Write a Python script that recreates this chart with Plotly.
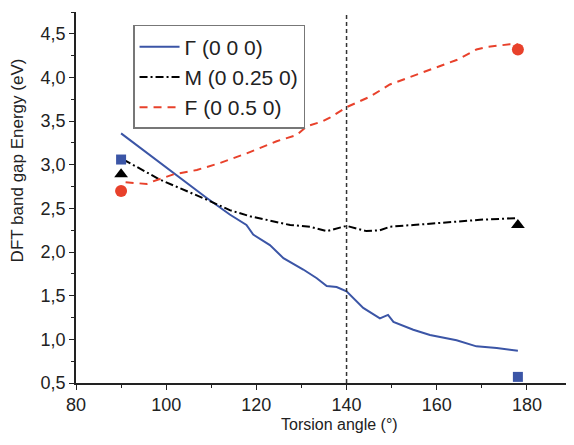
import plotly.graph_objects as go

# band gap along the torsion path
gamma_x = [90, 101.5, 109, 114.1, 117.8, 119.3, 123, 126, 130.4, 133.4, 135.6, 137.8, 140,
           143.7, 147.4, 149.2, 150.4, 154.8, 158.5, 164.4, 168.8, 173.3, 178]
gamma_y = [3.36, 2.91, 2.62, 2.43, 2.31, 2.20, 2.08, 1.93, 1.80, 1.70, 1.61, 1.60, 1.55,
           1.36, 1.24, 1.28, 1.20, 1.11, 1.05, 0.99, 0.92, 0.90, 0.87]

m_x = [90.5, 98.6, 109, 114.1, 118.6, 123, 127.5, 131.9, 135.6, 140, 144.4, 147.4, 149.6,
       154.8, 162.2, 169.6, 178]
m_y = [3.06, 2.83, 2.60, 2.48, 2.41, 2.36, 2.31, 2.29, 2.24, 2.30, 2.24, 2.25, 2.29,
       2.31, 2.34, 2.37, 2.39]

f_x = [91, 93.8, 95.7, 97.1, 101.6, 106.8, 111.9, 117.8, 124.5, 128.9, 131.2, 134.8, 136.3,
       140, 145.2, 149.6, 153.3, 158.5, 164.4, 168.8, 171.1, 176.2, 178]
f_y = [2.80, 2.79, 2.78, 2.81, 2.89, 2.94, 3.02, 3.13, 3.27, 3.34, 3.44, 3.50, 3.54,
       3.66, 3.78, 3.92, 3.99, 4.09, 4.20, 4.32, 4.35, 4.38, 4.38]

# single-point markers at both ends
end_x = [90, 178]
sq_y = [3.06, 0.57]
tri_y = [2.89, 2.31]
circ_y = [2.70, 4.32]

vline_x = 140

x_title = 'Torsion angle (°)'
y_title = 'DFT band gap Energy (eV)'

blue = '#3b55a6'
red = '#e8412b'
font = 'Arial, Liberation Sans, sans-serif'

fig = go.Figure()
fig.add_trace(go.Scatter(x=gamma_x, y=gamma_y, mode='lines', name='Γ (0 0 0)',
                         line=dict(color=blue, width=2)))
fig.add_trace(go.Scatter(x=m_x, y=m_y, mode='lines', name='M (0 0.25 0)',
                         line=dict(color='black', width=2, dash='8px,3px,2px,3px')))
fig.add_trace(go.Scatter(x=f_x, y=f_y, mode='lines', name='F (0 0.5 0)',
                         line=dict(color=red, width=2, dash='8px,6px')))

fig.add_trace(go.Scatter(x=end_x, y=sq_y, mode='markers', showlegend=False,
                         marker=dict(symbol='square', size=10, color=blue)))
fig.add_trace(go.Scatter(x=end_x, y=tri_y, mode='markers', showlegend=False,
                         marker=dict(symbol='triangle-up', size=12, color='black')))
fig.add_trace(go.Scatter(x=end_x, y=circ_y, mode='markers', showlegend=False,
                         marker=dict(symbol='circle', size=12, color=red)))

fig.add_vline(x=vline_x, line=dict(color='#333333', width=1.5, dash='4px,3px'))

# axis titles as annotations, they sit a bit off-centre in the original
fig.add_annotation(text=x_title, xref='paper', yref='paper', x=0.532, y=-0.113,
                   showarrow=False, font=dict(size=16), xanchor='center', yanchor='middle')
fig.add_annotation(text=y_title, xref='paper', yref='paper', x=-0.119, y=0.60,
                   textangle=-90, showarrow=False, font=dict(size=17),
                   xanchor='center', yanchor='middle')

# the page body has an 8px margin, so the figure is a little smaller than the window
fig.update_layout(
    width=566, height=437,
    margin=dict(l=68, r=2, t=4, b=62),
    paper_bgcolor='white', plot_bgcolor='white',
    separators=', ',
    font=dict(family=font, size=14, color='#222222'),
    showlegend=True,
    legend=dict(x=0.115, y=0.965, xanchor='left', yanchor='top',
                bordercolor='#777777', borderwidth=1.5, bgcolor='white',
                font=dict(size=21), tracegroupgap=0, itemwidth=40),
    xaxis=dict(range=[80, 190], dtick=20, tick0=80, showgrid=False, zeroline=False,
               automargin=False,
               showline=True, linecolor='#222222', linewidth=1.5,
               ticks='outside', ticklen=5, tickcolor='#222222',
               minor=dict(dtick=10, ticks='outside', ticklen=3, tickcolor='#222222'),
               tickfont=dict(size=18)),
    yaxis=dict(range=[0.5, 4.75], dtick=0.5, tick0=0.5, tickformat='.1f',
               showgrid=False, zeroline=False, automargin=False,
               showline=True, linecolor='#222222', linewidth=1.5,
               ticks='outside', ticklen=5, tickcolor='#222222',
               minor=dict(dtick=0.25, ticks='outside', ticklen=3, tickcolor='#222222'),
               tickfont=dict(size=18)),
)

fig.write_html("out.html")
